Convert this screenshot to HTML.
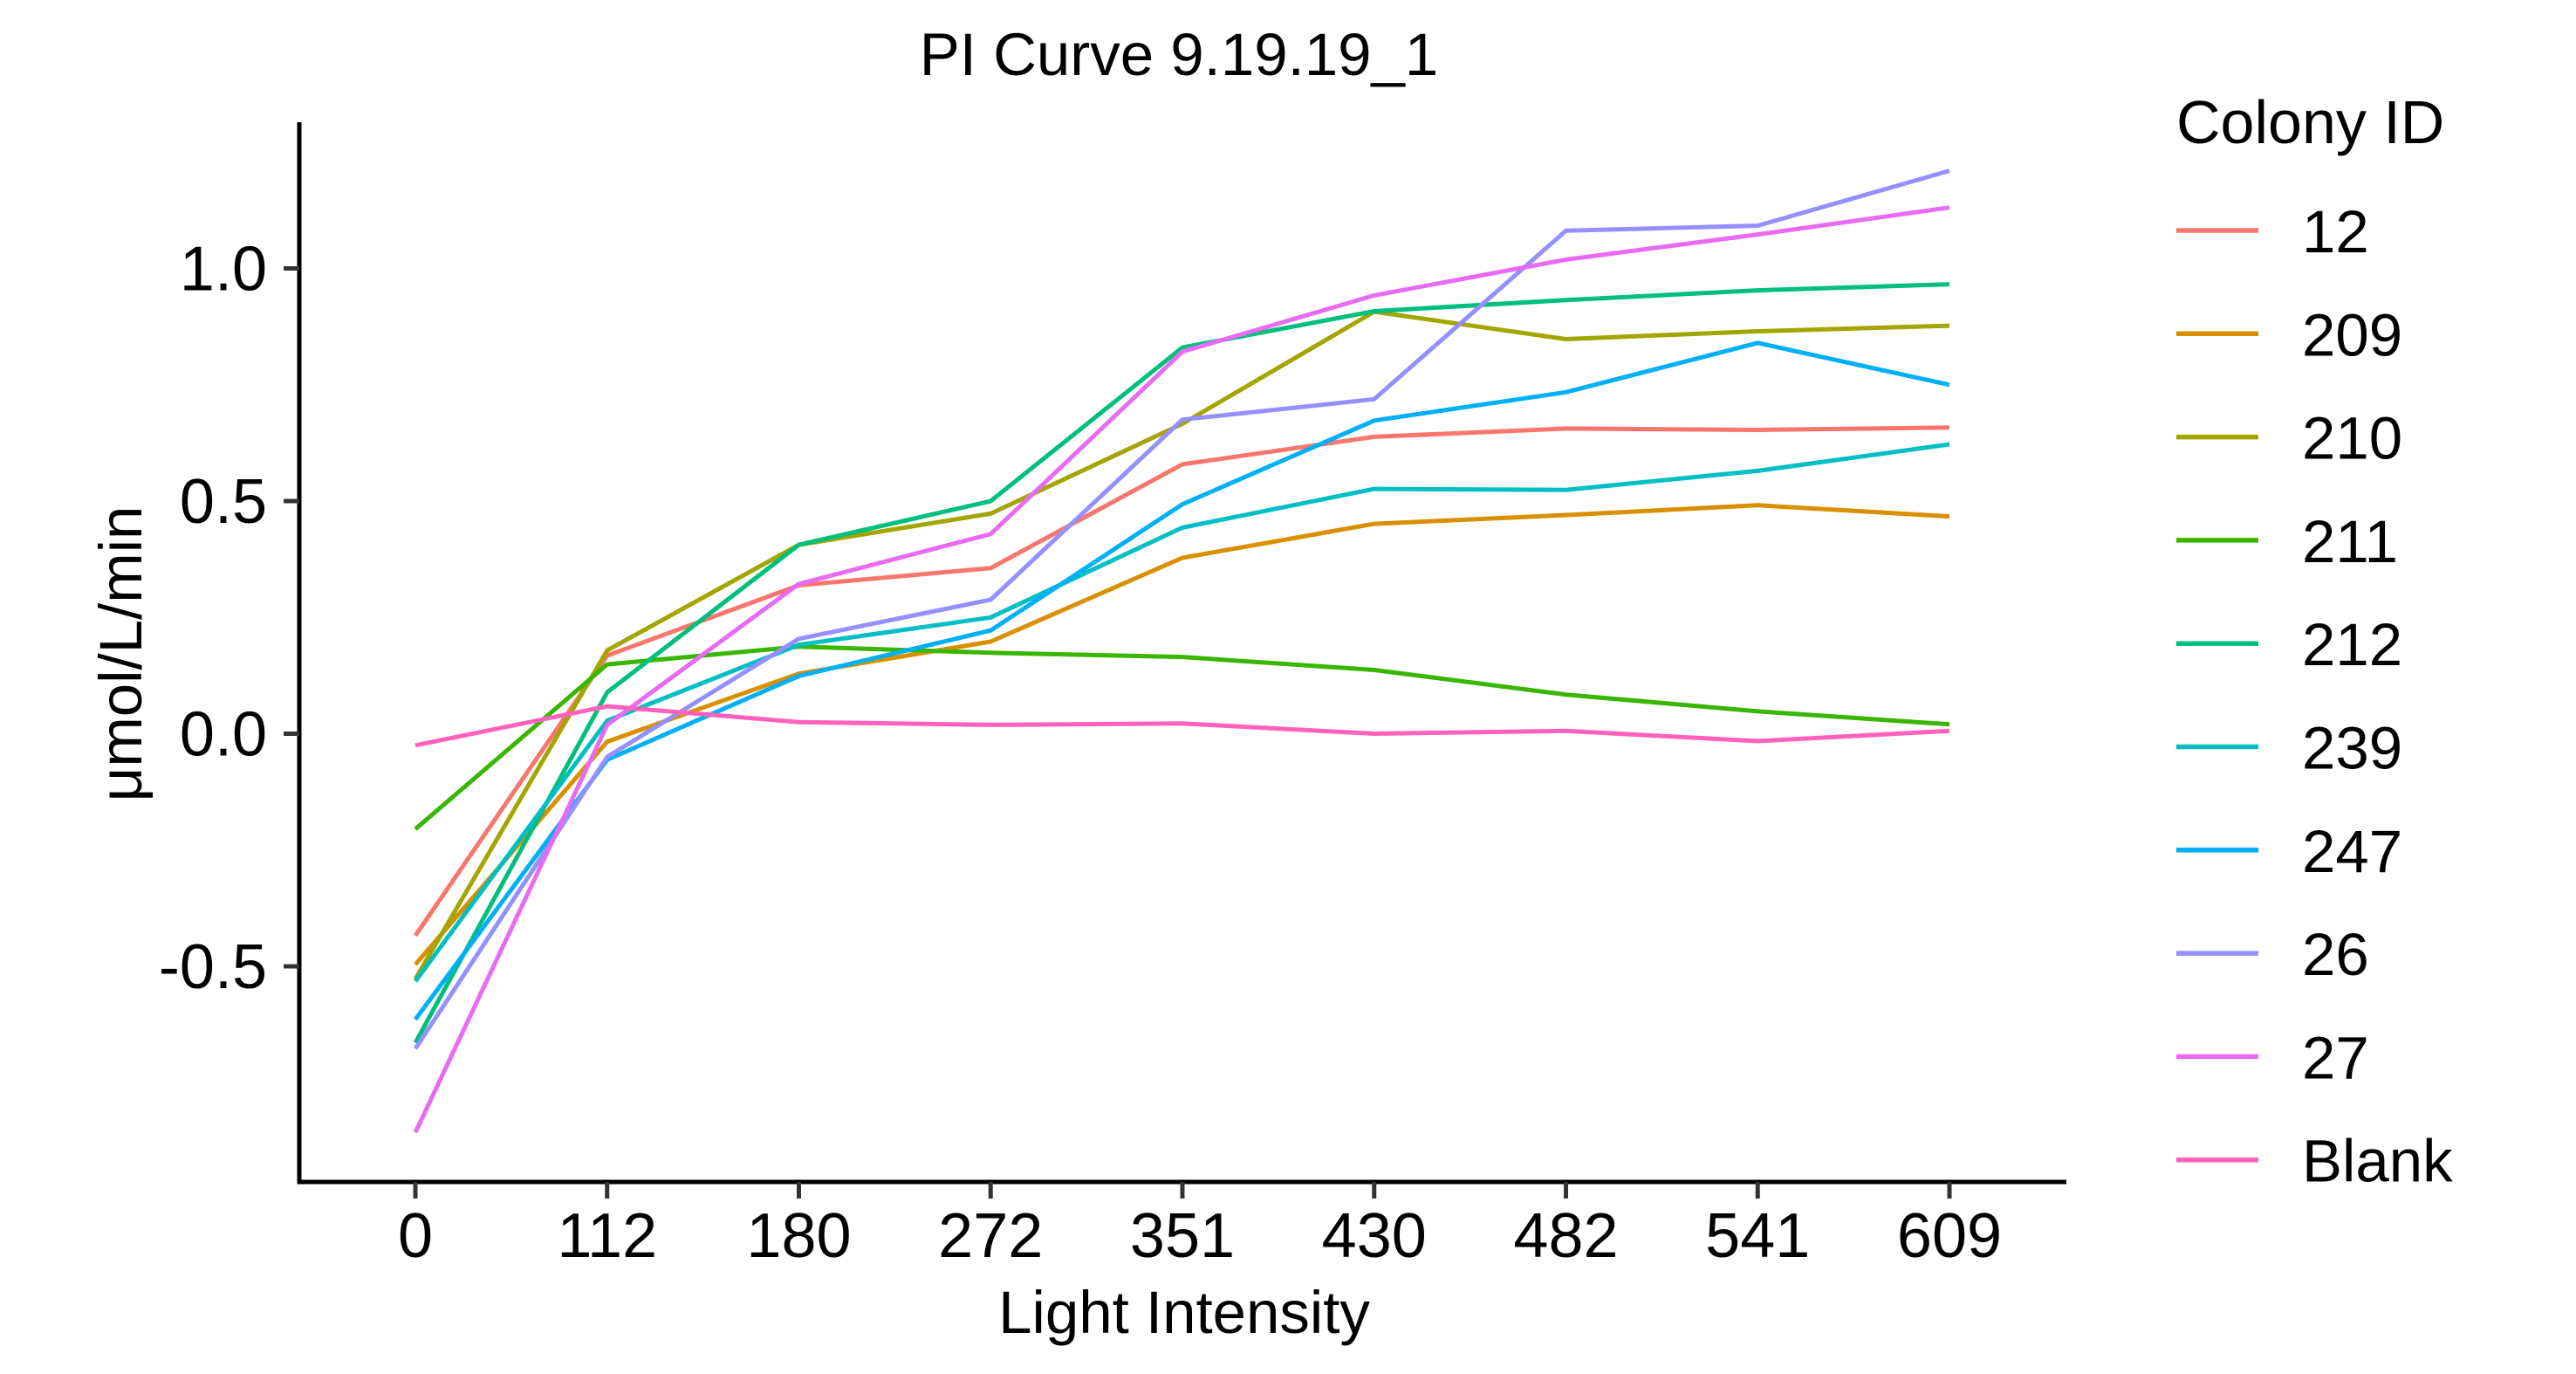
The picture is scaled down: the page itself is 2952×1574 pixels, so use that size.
<!DOCTYPE html>
<html><head><meta charset="utf-8"><style>
html,body{margin:0;padding:0;background:#fff;}
svg{display:block;font-family:"Liberation Sans",Arial,sans-serif;}
</style></head><body>
<svg id="chart" width="2952" height="1574" viewBox="0 0 2952 1574" xmlns="http://www.w3.org/2000/svg">
<rect width="2952" height="1574" fill="#fff"/>
<text x="1351" y="86" font-size="69" text-anchor="middle">PI Curve 9.19.19_1</text>
<text x="1357" y="1527" font-size="69" text-anchor="middle">Light Intensity</text>
<text transform="translate(162,749) rotate(-90)" font-size="69" text-anchor="middle">μmol/L/min</text>
<g id="plot"></g>
<g id="legend"></g>
</svg>
<script>
const categories = ["0","112","180","272","351","430","482","541","609"];
const seriesNames = ["12","209","210","211","212","239","247","26","27","Blank"];
const s12 = [-0.434,0.168,0.319,0.356,0.579,0.638,0.656,0.653,0.658];
const s209 = [-0.496,-0.017,0.129,0.198,0.378,0.451,0.470,0.491,0.467];
const s210 = [-0.527,0.179,0.406,0.473,0.666,0.907,0.848,0.865,0.877];
const s211 = [-0.205,0.149,0.187,0.174,0.165,0.137,0.084,0.048,0.020];
const s212 = [-0.664,0.089,0.406,0.500,0.830,0.908,0.932,0.953,0.966];
const s239 = [-0.532,0.028,0.191,0.250,0.443,0.526,0.524,0.565,0.622];
const s247 = [-0.614,-0.056,0.124,0.222,0.493,0.673,0.734,0.840,0.750];
const s26 = [-0.677,-0.050,0.204,0.288,0.675,0.719,1.081,1.092,1.210];
const s27 = [-0.857,0.019,0.322,0.429,0.821,0.942,1.019,1.073,1.131];
const sBlank = [-0.025,0.059,0.025,0.019,0.022,0.000,0.006,-0.016,0.006];
const yTicks = [-0.5,0.0,0.5,1.0];
const yTickLabels = ["-0.5","0.0","0.5","1.0"];

const allSeries = [s12,s209,s210,s211,s212,s239,s247,s26,s27,sBlank];
const colors = ["#F8766D","#D89000","#A3A500","#39B600","#00BF7D","#00BFC4","#00B0F6","#9590FF","#E76BF3","#FF62BC"];
const NS = "http://www.w3.org/2000/svg";
const X0 = 476, XSTEP = 219.75;
function xScale(i){ return X0 + i*XSTEP; }
function yScale(v){ return 840.5 - 533*v; }
const plot = document.getElementById('plot');
function mk(tag, attrs, parent){ const e=document.createElementNS(NS,tag); for(const k in attrs) e.setAttribute(k,attrs[k]); parent.appendChild(e); return e; }

const yAxis = mk('line',{x1:343,y1:140,x2:343,y2:1356.5,stroke:'#000','stroke-width':5},plot);


const xAxis = mk('line',{x1:340.5,y1:1354,x2:2368,y2:1354,stroke:'#000','stroke-width':5},plot);



yTicks.forEach((v,i)=>{
  const y=yScale(v);
  const t=mk('line',{x1:325,y1:y,x2:343,y2:y,stroke:'#333','stroke-width':5},plot);
  
  
  const l=mk('text',{x:306,y:y+25,'font-size':72,'text-anchor':'end',fill:'#000'},plot);
  l.textContent=yTickLabels[i];
  
  
});
categories.forEach((c,i)=>{
  const x=xScale(i);
  const t=mk('line',{x1:x,y1:1354,x2:x,y2:1373,stroke:'#333','stroke-width':5},plot);
  
  
  const l=mk('text',{x:x,y:1440,'font-size':72,'text-anchor':'middle',fill:'#000'},plot);
  l.textContent=c;
  
  
});

allSeries.forEach((s,k)=>{
  const pts=s.map((v,i)=>xScale(i).toFixed(1)+','+yScale(v).toFixed(1)).join(' ');
  const p=mk('polyline',{points:pts,fill:'none',stroke:colors[k],'stroke-width':5,'stroke-linejoin':'round'},plot);
  
  
});

const lg=document.getElementById('legend');
const lt=mk('text',{x:2494,y:164,'font-size':70,fill:'#000'},lg);
lt.textContent='Colony ID';


seriesNames.forEach((n,k)=>{
  const y=264+118.3*k;
  const g=mk('g',{},lg);
  
  
  mk('line',{x1:2494,y1:y,x2:2588,y2:y,stroke:colors[k],'stroke-width':5.5},g);
  const t=mk('text',{x:2638,y:y+25,'font-size':69,fill:'#000'},g);
  t.textContent=n;
});
</script>
</body></html>
